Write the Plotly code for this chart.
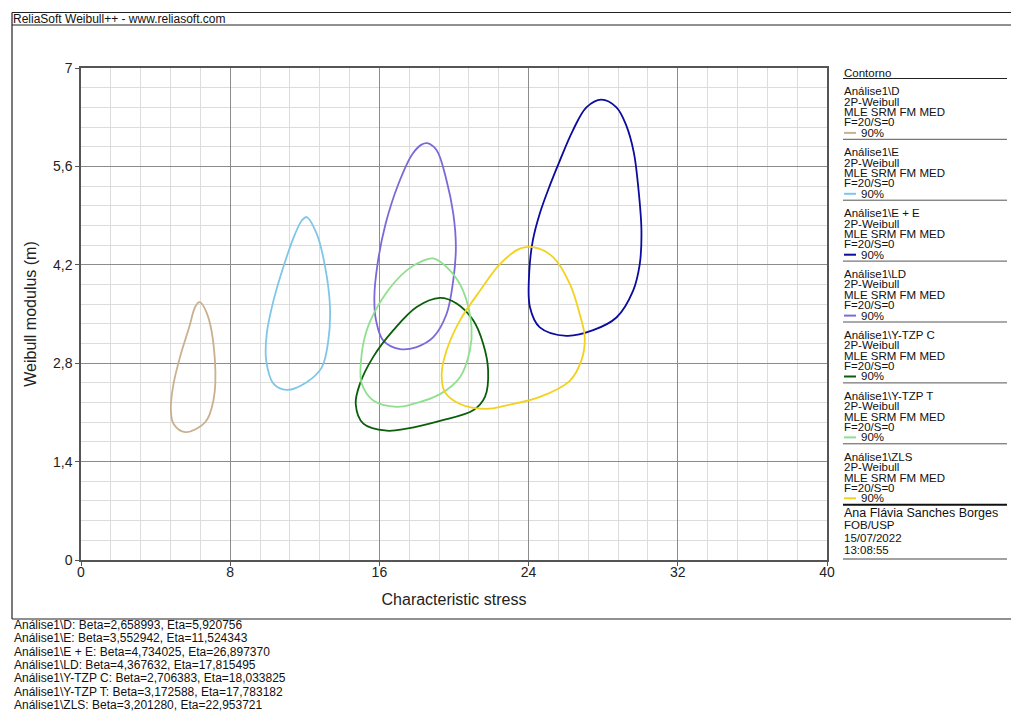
import plotly.graph_objects as go

# ---------------- data ----------------
# contour points: x = characteristic stress (Eta), y = Weibull modulus (Beta)
d_eta = [6.35, 6.75, 7.18, 7.10, 6.66, 5.59, 4.96, 4.82, 4.93, 5.31, 5.80, 6.12]
d_beta = [3.67, 3.51, 2.84, 2.27, 1.96, 1.82, 1.94, 2.13, 2.46, 2.89, 3.31, 3.60]

e_eta = [12.10, 12.64, 13.09, 13.35, 13.26, 12.91, 12.10, 11.03, 10.32, 9.93, 9.96, 10.32, 10.85, 11.48, 11.84]
e_beta = [4.88, 4.64, 4.17, 3.60, 3.12, 2.74, 2.53, 2.42, 2.51, 2.84, 3.22, 3.69, 4.17, 4.64, 4.83]

ee_eta = [27.90, 28.71, 29.24, 29.64, 29.87, 30.05, 29.96, 29.60, 28.71, 27.46, 26.03, 24.60, 24.07, 24.04, 24.23, 24.60, 25.14, 25.67, 26.37, 27.10]
ee_beta = [6.55, 6.44, 6.18, 5.80, 5.33, 4.69, 4.21, 3.83, 3.45, 3.27, 3.19, 3.31, 3.60, 4.12, 4.55, 4.93, 5.33, 5.68, 6.11, 6.44]

ld_eta = [18.56, 19.07, 19.60, 19.96, 20.10, 19.96, 19.60, 18.89, 18.00, 17.10, 16.21, 15.82, 15.73, 15.90, 16.33, 17.02, 17.78, 18.26]
ld_beta = [5.93, 5.83, 5.40, 4.93, 4.45, 3.98, 3.50, 3.17, 3.03, 3.00, 3.12, 3.41, 3.74, 4.21, 4.78, 5.35, 5.78, 5.91]

ytc_eta = [19.25, 20.14, 21.03, 21.56, 21.83, 21.66, 21.03, 19.25, 17.46, 16.39, 15.14, 14.73, 14.96, 15.67, 16.75, 18.00]
ytc_beta = [3.73, 3.65, 3.41, 3.08, 2.70, 2.32, 2.13, 1.98, 1.87, 1.84, 1.94, 2.22, 2.51, 2.89, 3.27, 3.60]

ytt_eta = [18.89, 19.78, 20.49, 20.94, 20.85, 20.32, 19.25, 17.81, 16.93, 15.67, 15.05, 15.00, 15.32, 16.21, 17.46, 18.35]
ytt_beta = [4.29, 4.12, 3.83, 3.31, 2.98, 2.60, 2.36, 2.22, 2.18, 2.27, 2.51, 2.79, 3.27, 3.74, 4.12, 4.26]

zls_eta = [24.24, 25.31, 26.21, 26.74, 27.01, 26.83, 26.21, 24.60, 22.82, 21.75, 20.32, 19.51, 19.34, 19.60, 20.32, 21.39, 22.46, 23.53]
zls_beta = [4.45, 4.31, 3.93, 3.50, 3.17, 2.84, 2.55, 2.32, 2.20, 2.15, 2.22, 2.39, 2.65, 2.98, 3.41, 3.83, 4.21, 4.43]

series_names = ["Análise1\\D", "Análise1\\E", "Análise1\\E + E", "Análise1\\LD",
                "Análise1\\Y-TZP C", "Análise1\\Y-TZP T", "Análise1\\ZLS"]
series_colors = ["#C9B08E", "#7FC6E8", "#0B0B9E", "#7A6AD8", "#0A5E0A", "#8EE08E", "#F2D21E"]
series_x = [d_eta, e_eta, ee_eta, ld_eta, ytc_eta, ytt_eta, zls_eta]
series_y = [d_beta, e_beta, ee_beta, ld_beta, ytc_beta, ytt_beta, zls_beta]

beta_vals = ["2,658993", "3,552942", "4,734025", "4,367632", "2,706383", "3,172588", "3,201280"]
eta_vals = ["5,920756", "11,524343", "26,897370", "17,815495", "18,033825", "17,783182", "22,953721"]

x_tick_vals = [0, 8, 16, 24, 32, 40]
x_tick_text = ["0", "8", "16", "24", "32", "40"]
y_tick_vals = [0, 1.4, 2.8, 4.2, 5.6, 7]
y_tick_text = ["0", "1,4", "2,8", "4,2", "5,6", "7"]

author_lines = ["Ana Flávia Sanches Borges", "FOB/USP", "15/07/2022", "13:08:55"]

# ---------------- layout helpers (pixel -> paper) ----------------
W, H = 1011, 713
ML, MR, MT, MB = 81, 184, 68, 153
PW, PH = W - ML - MR, H - MT - MB


def fx(px):
    return (px - ML) / PW


def fy(py):
    return (H - MB - py) / PH


FONT = "Liberation Sans, Arial, sans-serif"

fig = go.Figure()
for name, col, xs, ys in zip(series_names, series_colors, series_x, series_y):
    fig.add_trace(go.Scatter(
        x=list(xs) + [xs[0]], y=list(ys) + [ys[0]], mode="lines", name=name,
        line=dict(color=col, width=1.8, shape="spline", smoothing=1.0),
        showlegend=False, hoverinfo="skip"))

shapes = []
annotations = []


def hline(py, x0, x1, color="#444", width=1):
    shapes.append(dict(type="line", xref="paper", yref="paper", x0=fx(x0), x1=fx(x1),
                       y0=fy(py), y1=fy(py), line=dict(color=color, width=width)))


def vline(px, y0, y1, color="#444", width=1):
    shapes.append(dict(type="line", xref="paper", yref="paper", x0=fx(px), x1=fx(px),
                       y0=fy(y0), y1=fy(y1), line=dict(color=color, width=width)))


def text(px, py, s, size=11, color="#111"):
    annotations.append(dict(xref="paper", yref="paper", x=fx(px), y=fy(py), text=s,
                            showarrow=False, xanchor="left", yanchor="middle",
                            font=dict(family=FONT, size=size, color=color), borderpad=0))


# outer frame
hline(12.5, 12, 1011, "#222", 1.2)
hline(25, 12, 1011, "#222", 1.2)
vline(12, 12.5, 619, "#222", 1.2)
hline(619, 12, 1011, "#222", 1.2)
text(12, 19, "ReliaSoft Weibull++ - www.reliasoft.com", 12)

# legend column
LX = 843
text(LX, 72.5, "Contorno", 11.5)
hline(78.5, LX, 1007, "#222", 1)
for i, (name, col) in enumerate(zip(series_names, series_colors)):
    s = 91.3 + 60.9 * i
    text(LX, s, name, 11.5)
    text(LX, s + 10.4, "2P-Weibull", 11.5)
    text(LX, s + 20.8, "MLE SRM FM MED", 11.5)
    text(LX, s + 31.2, "F=20/S=0", 11.5)
    shapes.append(dict(type="line", xref="paper", yref="paper", x0=fx(LX + 1), x1=fx(LX + 13),
                       y0=fy(s + 41.6), y1=fy(s + 41.6), line=dict(color=col, width=2)))
    text(LX + 17, s + 41.6, "90%", 11.5)
    if i < len(series_names) - 1:
        hline(s + 48, LX, 1007, "#555", 1)
    else:
        hline(s + 48, LX, 1007, "#111", 2)
for j, s in enumerate(author_lines):
    text(LX, 513 + 12.3 * j, s, 12.5 if j == 0 else 11.5)
hline(559, LX, 1007, "#444", 1)

# bottom parameter lines
for i, (name, b, e) in enumerate(zip(series_names, beta_vals, eta_vals)):
    text(12.5, 625 + 13.3 * i, f"{name}: Beta={b}, Eta={e}", 12)

fig.update_layout(
    width=W, height=H,
    margin=dict(l=ML, r=MR, t=MT, b=MB),
    paper_bgcolor="white", plot_bgcolor="white",
    showlegend=False,
    shapes=shapes, annotations=annotations,
    xaxis=dict(range=[0, 40], tickvals=x_tick_vals, ticktext=x_tick_text,
               showgrid=True, gridcolor="#8c8c8c", gridwidth=1,
               minor=dict(dtick=1.6, tick0=0, showgrid=True, gridcolor="#dcdcdc", gridwidth=1, ticks=""),
               showline=True, linecolor="#555", linewidth=1.5, mirror=True,
               ticks="outside", ticklen=4, tickcolor="#555", zeroline=False,
               ticklabelstandoff=-6,
               tickfont=dict(family=FONT, size=14, color="#222"),
               title=dict(text="Characteristic stress", font=dict(family=FONT, size=16, color="#222"), standoff=15)),
    yaxis=dict(range=[0, 7], tickvals=y_tick_vals, ticktext=y_tick_text,
               showgrid=True, gridcolor="#8c8c8c", gridwidth=1,
               minor=dict(dtick=0.28, tick0=0, showgrid=True, gridcolor="#dcdcdc", gridwidth=1, ticks=""),
               showline=True, linecolor="#555", linewidth=1.5, mirror=True,
               ticks="outside", ticklen=4, tickcolor="#555", zeroline=False,
               tickfont=dict(family=FONT, size=14, color="#222"),
               title=dict(text="Weibull modulus (m)", font=dict(family=FONT, size=16, color="#222"), standoff=12)),
)

fig.write_html("out.html")
